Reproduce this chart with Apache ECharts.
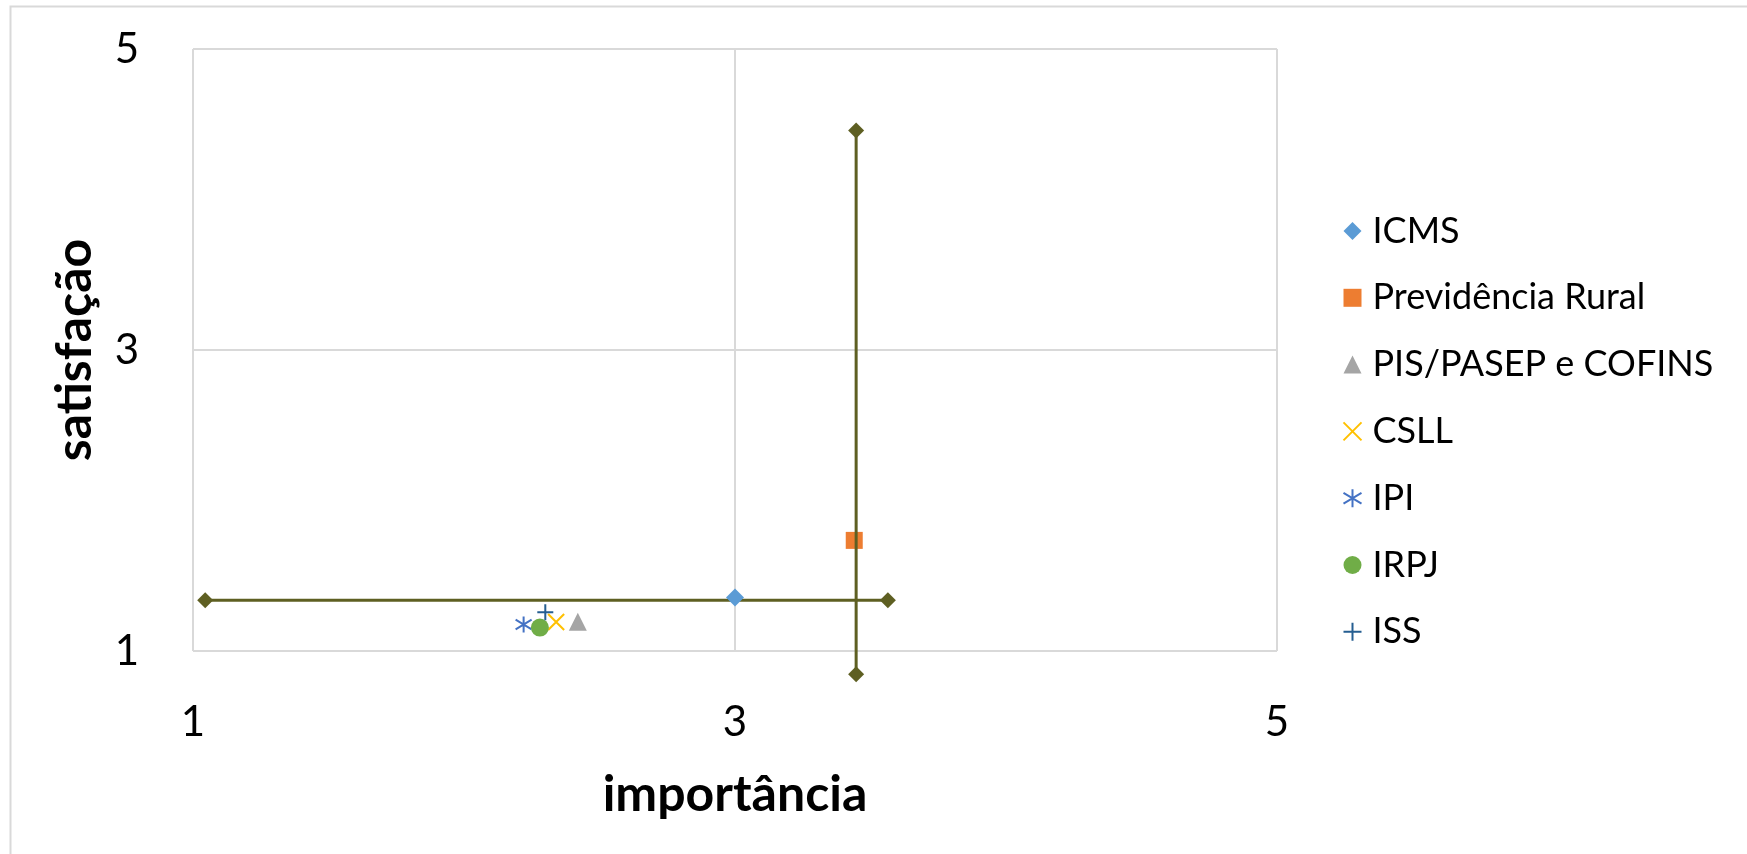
<!DOCTYPE html>
<html>
<head>
<meta charset="utf-8">
<script src="https://cdn.jsdelivr.net/npm/echarts@6/dist/echarts.min.js"></script>
<style>
html,body{margin:0;padding:0;background:#fff;}
#chart{width:1747px;height:854px;}
</style>
</head>
<body>
<div id="chart"></div>
<script>
// ---- data ----
var seriesNames = ['ICMS', 'Previdência Rural', 'PIS/PASEP e COFINS', 'CSLL', 'IPI', 'IRPJ', 'ISS'];
var importancia = [3.00, 3.44, 2.42, 2.34, 2.22, 2.28, 2.30];
var satisfacao = [1.355, 1.735, 1.195, 1.193, 1.176, 1.156, 1.257];
var horizontalLineX = [1.045, 3.564];
var horizontalLineY = [1.337, 1.337];
var verticalLineX = [3.447, 3.447];
var verticalLineY = [0.845, 4.458];
var xTicks = [1, 3, 5];
var yTicks = [1, 3, 5];
var xTitle = 'importância';
var yTitle = 'satisfação';

// ---- styles ----
var colors = ['#5B9BD5', '#ED7D31', '#A5A5A5', '#FFC000', '#4472C4', '#70AD47', '#255E91'];
var symbols = [
  'diamond',
  'rect',
  'triangle',
  'path://M0,0L10,10M10,0L0,10',
  'path://M5,0L5,10M0,2L10,8M10,2L0,8',
  'circle',
  'path://M5,0L5,10M0,5L10,5'
];
var stroked = [false, false, false, true, true, false, true];
var sizes = [18, 17, 18, 16, 16, 18, 16];
var lineColor = '#5E5F22';
var fontFamily = 'Lato, "Open Sans", sans-serif';

var chart = echarts.init(document.getElementById('chart'), null, {renderer: 'canvas'});

var series = [];
series.push({
  name: 'h', type: 'line', z: 1,
  data: horizontalLineX.map(function (x, i) { return [x, horizontalLineY[i]]; }),
  symbol: 'diamond', symbolSize: 16, showSymbol: true, clip: false,
  lineStyle: {color: lineColor, width: 3},
  itemStyle: {color: lineColor, opacity: 1},
  silent: true
});
seriesNames.forEach(function (n, i) {
  var it = stroked[i]
    ? {color: 'none', borderColor: colors[i], borderWidth: 2, opacity: 1}
    : {color: colors[i], borderWidth: 0, opacity: 1};
  series.push({
    name: n, type: 'scatter', z: 3,
    data: [[importancia[i], satisfacao[i]]],
    symbol: symbols[i], symbolSize: sizes[i], symbolKeepAspect: true,
    itemStyle: it
  });
});
series.push({
  name: 'v', type: 'line', z: 4,
  data: verticalLineX.map(function (x, i) { return [x, verticalLineY[i]]; }),
  symbol: 'diamond', symbolSize: 16, showSymbol: true, clip: false,
  lineStyle: {color: lineColor, width: 3},
  itemStyle: {color: lineColor, opacity: 1},
  silent: true
});

var option = {
  animation: false,
  backgroundColor: '#fff',
  textStyle: {fontFamily: fontFamily},
  graphic: [{
    type: 'rect', left: 8, top: 4,
    shape: {width: 1738, height: 870},
    style: {fill: 'none', stroke: '#d9d9d9', lineWidth: 2},
    silent: true
  }],
  grid: {left: 193, right: 470, top: 49, bottom: 203},
  xAxis: {
    type: 'value', min: xTicks[0], max: xTicks[xTicks.length - 1], interval: xTicks[1] - xTicks[0],
    name: xTitle, nameLocation: 'middle', nameGap: 119,
    nameTextStyle: {fontSize: 50, fontWeight: 'bold', color: '#000', fontFamily: fontFamily},
    axisLine: {show: false}, axisTick: {show: false},
    axisLabel: {fontSize: 42, color: '#000', margin: 50, fontFamily: fontFamily},
    splitLine: {show: true, lineStyle: {color: '#d9d9d9', width: 2}}
  },
  yAxis: {
    type: 'value', min: yTicks[0], max: yTicks[yTicks.length - 1], interval: yTicks[1] - yTicks[0],
    name: yTitle, nameLocation: 'middle', nameGap: 93, nameRotate: 90,
    nameTextStyle: {fontSize: 50, fontWeight: 'bold', color: '#000', fontFamily: fontFamily},
    axisLine: {show: false}, axisTick: {show: false},
    axisLabel: {fontSize: 42, color: '#000', margin: 54, fontFamily: fontFamily},
    splitLine: {show: true, lineStyle: {color: '#d9d9d9', width: 2}}
  },
  legend: {
    data: seriesNames,
    orient: 'vertical',
    left: 1336, top: 206,
    itemWidth: 18, itemHeight: 18, itemGap: 26.8,
    selectedMode: false,
    textStyle: {fontSize: 36, color: '#000', lineHeight: 40, padding: [0, 0, 0, 6], fontFamily: fontFamily}
  },
  series: series
};
chart.setOption(option);
</script>
</body>
</html>
